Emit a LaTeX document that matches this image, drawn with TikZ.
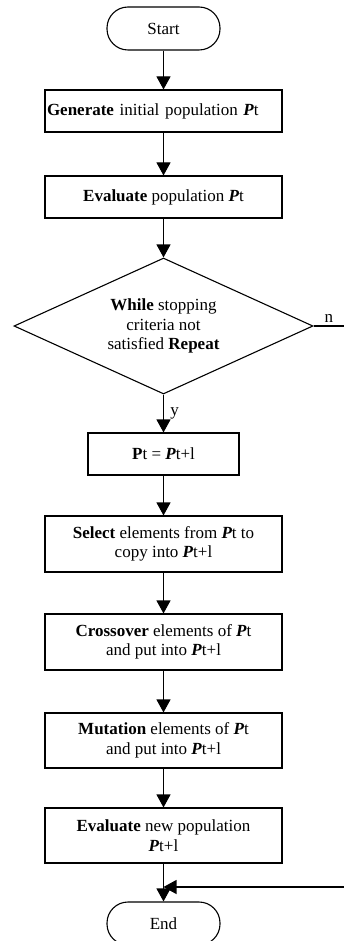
\documentclass[tikz,border=0pt]{standalone}
\usepackage{fontspec}
\setmainfont{Liberation Serif}
\usetikzlibrary{arrows.meta,shapes.geometric}

\begin{document}
\begin{tikzpicture}[x=1pt,y=-1pt,line width=1.1pt,
  font=\fontsize{17}{19.5}\selectfont,
  box/.style={draw,rectangle,minimum width=237pt,inner sep=2pt,align=center},
  term/.style={draw,rectangle,rounded corners=21pt,minimum width=113pt,minimum height=43pt},
  flow/.style={-{Triangle[width=14pt,length=13pt]}}]
\useasboundingbox (0,0) rectangle (344,941);
\node[term] (start) at (163.5,28.5) {Start};
\node[box,minimum height=42pt,text width=233pt,align=left] (gen) at (163.5,111) {\textbf{Generate} initial population \textbf{\textit{P}}t};
\node[box,minimum height=42pt] (eval) at (163.5,197) {\textbf{Evaluate} population \textbf{\textit{P}}t};
\node[draw,diamond,aspect=2.2,inner sep=0pt,minimum width=299pt,minimum height=136pt,align=center] (loop) at (163.5,326) {\textbf{While} stopping\\criteria not\\satisfied \textbf{Repeat}};
\node[box,minimum width=151pt,minimum height=42pt] (copy) at (163.5,454) {\textbf{P}t = \textbf{\textit{P}}t+l};
\node[box,minimum height=56pt] (sel) at (163.5,544) {\textbf{Select} elements from \textbf{\textit{P}}t to\\copy into \textbf{\textit{P}}t+l};
\node[box,minimum height=56pt] (cross) at (163.5,642) {\textbf{Crossover} elements of \textbf{\textit{P}}t\\and put into \textbf{\textit{P}}t+l};
\node[box,minimum height=55pt] (mut) at (163.5,740.5) {\textbf{Mutation} elements of \textbf{\textit{P}}t\\and put into \textbf{\textit{P}}t+l};
\node[box,minimum height=55pt] (evalnew) at (163.5,835.5) {\textbf{Evaluate} new population\\\textbf{\textit{P}}t+l};
\node[term] (end) at (163.5,923.5) {End};
\coordinate (nout) at (344,326);
\coordinate (back) at (344,887);
\coordinate (join) at (163.5,887);
\draw[flow] (start) -- (gen);
\draw[flow] (gen) -- (eval);
\draw[flow] (eval) -- (loop);
\draw[flow] (loop) -- node[right=3pt]{y} (copy);
\draw[flow] (copy) -- (sel);
\draw[flow] (sel) -- (cross);
\draw[flow] (cross) -- (mut);
\draw[flow] (mut) -- (evalnew);
\draw[flow] (evalnew) -- (end);
\draw (loop.east) -- node[above]{n} (nout);
\draw[flow] (back) -- (join);
\end{tikzpicture}
\end{document}
